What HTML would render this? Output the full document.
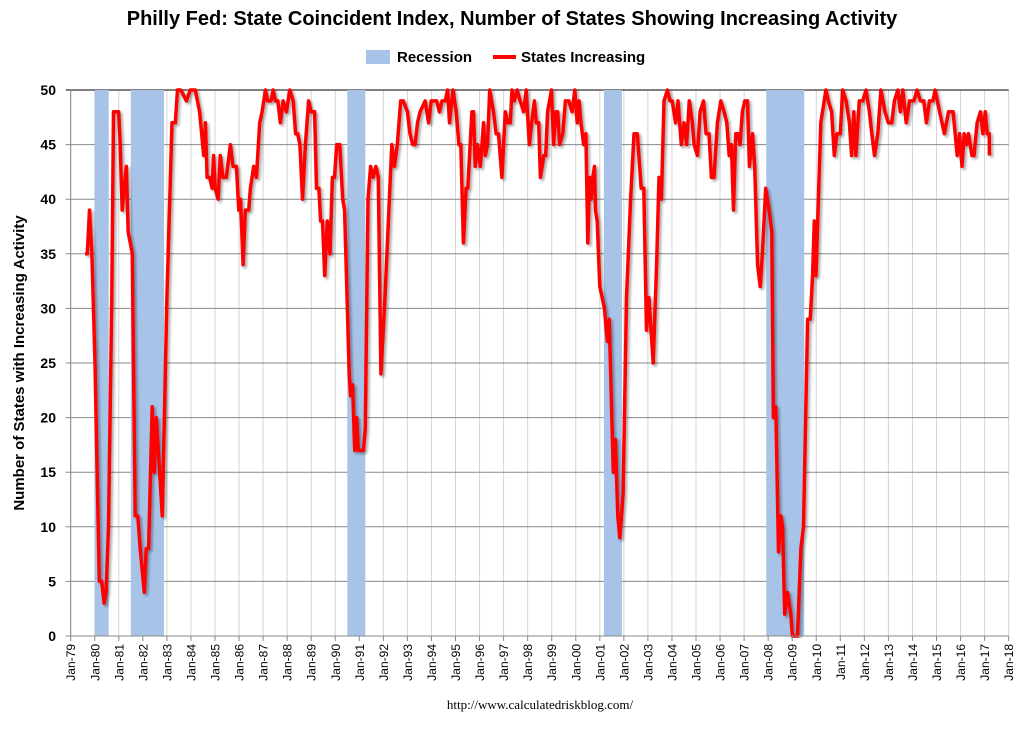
<!DOCTYPE html>
<html><head><meta charset="utf-8"><style>
body{margin:0;background:#fff;}
svg text{font-family:"Liberation Sans",sans-serif;}
</style></head><body>
<svg id="chart" width="1024" height="725" xmlns="http://www.w3.org/2000/svg">
<defs>
<clipPath id="plotclip"><rect x="70" y="88" width="938" height="550"/></clipPath>
<filter id="shadow" x="-5%" y="-5%" width="110%" height="110%"><feDropShadow dx="2" dy="2" stdDeviation="1.2" flood-color="#000" flood-opacity="0.35"/></filter>
</defs>
<text x="512" y="25" text-anchor="middle" font-size="20" font-weight="bold" fill="#000">Philly Fed: State Coincident Index, Number of States Showing Increasing Activity</text>
<g>
<rect x="366" y="50" width="24" height="14" fill="#a7c3e8"/>
<text x="397" y="62" font-size="15" font-weight="bold">Recession</text>
<line x1="493" y1="57" x2="516" y2="57" stroke="#f00" stroke-width="4"/>
<text x="521" y="62" font-size="15" font-weight="bold">States Increasing</text>
</g>
<g id="grid"></g>
<g id="bands"></g>
<g id="series" clip-path="url(#plotclip)"></g>
<g id="axes"></g>
<text transform="translate(24,363) rotate(-90)" text-anchor="middle" font-size="15" font-weight="bold">Number of States with Increasing Activity</text>
<text x="540" y="709" text-anchor="middle" font-size="13" style="font-family:'Liberation Serif',serif">http://www.calculatedriskblog.com/</text>
</svg>
<script>
const yTicks=[0,5,10,15,20,25,30,35,40,45,50];
const xYears=[];for(let y=1979;y<=2018;y++)xYears.push(y);
const recessionStart=[1980.0,1981.5,1990.5,2001.17,2007.92];
const recessionEnd=[1980.58,1982.88,1991.25,2001.92,2009.5];
const dates=[1979.60,1979.69,1979.78,1979.88,1980.01,1980.19,1980.29,1980.39,1980.47,1980.57,1980.71,1980.78,1980.89,1980.99,1981.06,1981.14,1981.22,1981.31,1981.39,1981.56,1981.68,1981.79,1981.89,1982.06,1982.14,1982.24,1982.39,1982.47,1982.56,1982.67,1982.81,1983.00,1983.21,1983.35,1983.44,1983.58,1983.81,1983.97,1984.18,1984.36,1984.53,1984.60,1984.67,1984.78,1984.88,1984.94,1985.01,1985.13,1985.22,1985.33,1985.47,1985.64,1985.75,1985.89,1985.99,1986.06,1986.17,1986.26,1986.40,1986.47,1986.61,1986.72,1986.86,1986.96,1987.10,1987.19,1987.33,1987.42,1987.51,1987.61,1987.72,1987.83,1987.97,1988.11,1988.25,1988.35,1988.44,1988.53,1988.64,1988.76,1988.89,1989.00,1989.14,1989.22,1989.32,1989.39,1989.47,1989.56,1989.67,1989.78,1989.88,1989.97,1990.06,1990.19,1990.31,1990.39,1990.58,1990.64,1990.72,1990.81,1990.89,1990.96,1991.17,1991.25,1991.36,1991.47,1991.58,1991.69,1991.79,1991.90,1992.07,1992.21,1992.35,1992.46,1992.58,1992.72,1992.83,1993.00,1993.11,1993.22,1993.32,1993.42,1993.53,1993.74,1993.88,1993.99,1994.22,1994.33,1994.44,1994.57,1994.67,1994.75,1994.89,1995.03,1995.14,1995.22,1995.33,1995.44,1995.51,1995.68,1995.75,1995.82,1995.92,1996.03,1996.17,1996.24,1996.33,1996.42,1996.58,1996.69,1996.79,1996.93,1997.07,1997.17,1997.28,1997.35,1997.44,1997.56,1997.69,1997.83,1997.94,1998.07,1998.17,1998.28,1998.36,1998.46,1998.53,1998.67,1998.75,1998.83,1998.99,1999.08,1999.17,1999.25,1999.33,1999.46,1999.57,1999.71,1999.85,1999.96,2000.06,2000.14,2000.22,2000.33,2000.42,2000.50,2000.57,2000.64,2000.71,2000.78,2000.82,2000.89,2001.00,2001.10,2001.19,2001.31,2001.39,2001.56,2001.65,2001.75,2001.83,2001.97,2002.11,2002.28,2002.42,2002.56,2002.72,2002.83,2002.94,2003.04,2003.22,2003.36,2003.46,2003.56,2003.67,2003.81,2003.92,2004.01,2004.15,2004.25,2004.39,2004.50,2004.61,2004.72,2004.85,2004.92,2005.06,2005.17,2005.31,2005.42,2005.54,2005.64,2005.75,2005.89,2006.03,2006.17,2006.28,2006.38,2006.47,2006.56,2006.65,2006.75,2006.83,2006.93,2007.03,2007.14,2007.22,2007.35,2007.44,2007.56,2007.67,2007.76,2007.90,2008.04,2008.15,2008.22,2008.32,2008.43,2008.53,2008.60,2008.69,2008.81,2008.94,2009.01,2009.22,2009.36,2009.47,2009.64,2009.75,2009.85,2009.92,2009.99,2010.06,2010.19,2010.33,2010.40,2010.50,2010.64,2010.75,2010.86,2011.00,2011.10,2011.24,2011.38,2011.47,2011.56,2011.65,2011.79,2011.93,2012.07,2012.21,2012.31,2012.42,2012.56,2012.69,2012.86,2013.00,2013.14,2013.25,2013.39,2013.50,2013.60,2013.74,2013.88,2014.06,2014.19,2014.33,2014.47,2014.58,2014.71,2014.85,2014.94,2015.13,2015.33,2015.50,2015.69,2015.86,2015.96,2016.06,2016.15,2016.25,2016.33,2016.47,2016.56,2016.69,2016.83,2016.93,2017.03,2017.11,2017.19,2017.20];
const states=[35,35,39,35,25,5,5,3,4,10,31,48,48,48,45,39,41,43,37,35,11,11,8,4,8,8,21,15,20,16,11,31,47,47,50,50,49,50,50,48,44,47,42,42,41,44,41,40,44,42,42,45,43,43,39,40,34,39,39,41,43,42,47,48,50,49,49,50,49,49,47,49,48,50,49,46,46,45,40,45,49,48,48,41,41,38,38,33,38,35,42,42,45,45,40,39,24,22,23,17,20,17,17,19,40,43,42,43,42,24,31,38,45,43,45,49,49,48,46,45,45,47,48,49,47,49,49,48,49,49,50,47,50,48,45,45,36,41,41,48,48,43,45,43,47,44,45,50,48,46,46,42,48,47,47,50,49,50,49,48,50,45,47,49,47,47,42,44,44,48,50,45,48,48,45,46,49,49,48,50,47,49,47,45,46,36,42,40,42,43,39,38,32,31,30,27,29,15,18,11,9,13,31,40,46,46,41,41,28,31,25,34,42,40,49,50,49,49,47,49,45,47,45,49,47,45,44,48,49,46,46,42,42,47,49,48,47,44,45,39,46,46,45,48,49,49,43,46,43,34,32,35,41,39,37,20,21,7.7,11,10,2,4,2,0,0,8,10,29,29,33,38,33,38,47,49,50,49,48,44,46,46,50,49,47,44,48,44,49,49,50,48,46,44,46,50,48,47,47,49,50,48,50,47,49,49,50,49,49,47,49,49,50,48,46,48,48,44,46,43,46,45,46,44,44,47,48,46,48,46,46,44];
const NS='http://www.w3.org/2000/svg';
const X0=70.7,PX=24.05,Y0=636,PY=10.92;
function xs(t){return X0+(t-1979)*PX;}
function ys(v){return Y0-v*PY;}
function mk(tag,attrs,parent){const e=document.createElementNS(NS,tag);for(const k in attrs)e.setAttribute(k,attrs[k]);parent.appendChild(e);return e;}
const grid=document.getElementById('grid'),bands=document.getElementById('bands'),series=document.getElementById('series'),axes=document.getElementById('axes');
xYears.forEach(y=>{const l=mk('line',{x1:xs(y),x2:xs(y),y1:ys(50),y2:ys(0),stroke:'#d4d4d4','stroke-width':1},grid);

});
yTicks.forEach(v=>{const l=mk('line',{x1:xs(1979)-5,x2:xs(2018),y1:ys(v),y2:ys(v),stroke:v===50?'#000':'#888','stroke-width':1},grid);


const t=mk('text',{x:56,y:ys(v)+5,'text-anchor':'end','font-size':14,'font-weight':'bold'},axes);t.textContent=v;

});
recessionStart.forEach((s,i)=>{const r=mk('rect',{x:xs(s),y:ys(50),width:xs(recessionEnd[i])-xs(s),height:ys(0)-ys(50),fill:'#a7c3e8'},bands);

});
let d='';dates.forEach((t,i)=>{d+=(i?'L':'M')+xs(t).toFixed(1)+','+ys(states[i]).toFixed(1);});
const p=mk('path',{d:d,fill:'none',stroke:'#f00','stroke-width':3.5,'stroke-linejoin':'round',filter:'url(#shadow)'},series);


const ax=mk('line',{x1:xs(1979),x2:xs(2018),y1:ys(0),y2:ys(0),stroke:'#888','stroke-width':1},axes);


const ay=mk('line',{x1:xs(1979),x2:xs(1979),y1:ys(50),y2:ys(0),stroke:'#888','stroke-width':1},axes);


xYears.forEach(y=>{const tk=mk('line',{x1:xs(y),x2:xs(y),y1:ys(0),y2:ys(0)+5,stroke:'#888'},axes);


const lab='Jan-'+String(y%100).padStart(2,'0');
const t=mk('text',{transform:'translate('+(xs(y)+4.5)+','+(ys(0)+8)+') rotate(-90)','text-anchor':'end','font-size':12},axes);t.textContent=lab;

});
</script>
</body></html>
